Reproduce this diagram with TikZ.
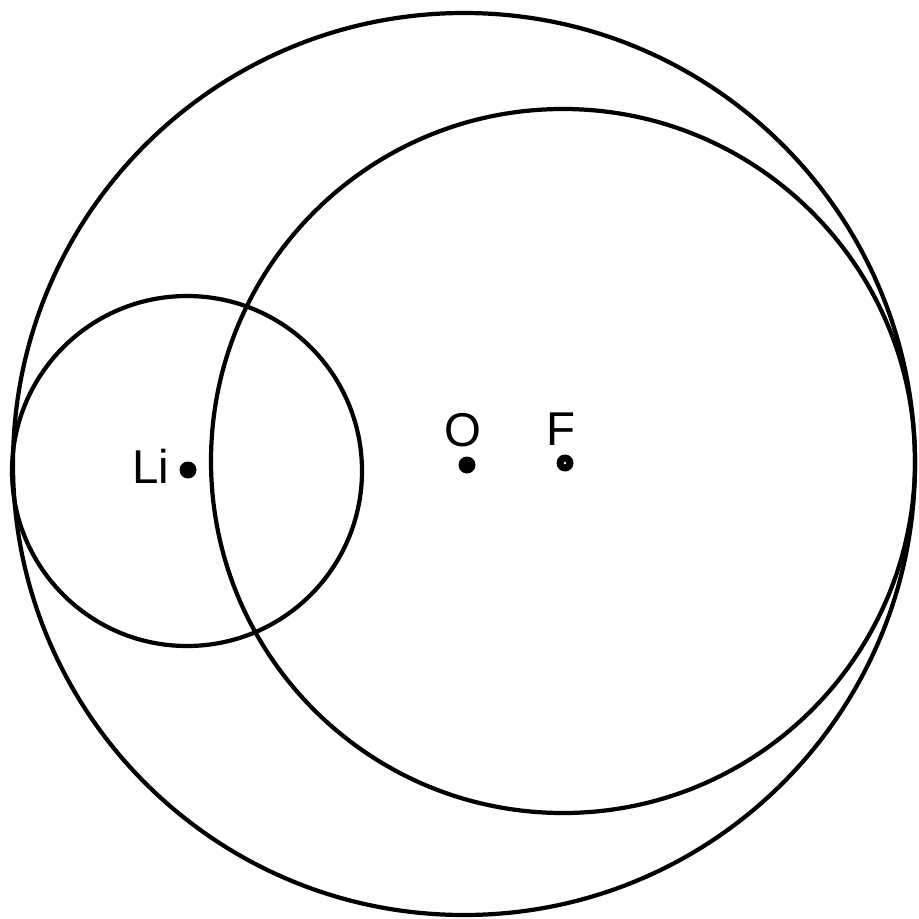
\documentclass[tikz,border=0pt]{standalone}
\usepackage{fontspec}
\setmainfont{Liberation Sans}
\begin{document}
\begin{tikzpicture}[x=0.02cm,y=-0.02cm,
  orbit/.style={draw=black,line width=2.4pt},
  atomdot/.style={circle,fill=black,inner sep=0pt,minimum size=0.34cm},
  atomlabel/.style={font=\fontsize{27}{30}\selectfont,inner sep=0pt}]
\useasboundingbox (0,0) rectangle (919,919);
\fill[white] (0,0) rectangle (919,919);
\draw[orbit] (464,464) circle[radius=451];
\draw[orbit] (563,461) circle[radius=352];
\draw[orbit] (187,471) circle[radius=175];
\node[atomdot] (li) at (188,470) {};
\node[atomdot] (o) at (467,465) {};
\node[atomdot] (f) at (565,463) {};
\fill[white] (f.center) circle[radius=0.8pt];
\node[atomlabel] (lil) at (151,466) {Li};
\node[atomlabel] (ol) at (463,430) {O};
\node[atomlabel] (fl) at (561,429) {F};
\end{tikzpicture}
\end{document}
